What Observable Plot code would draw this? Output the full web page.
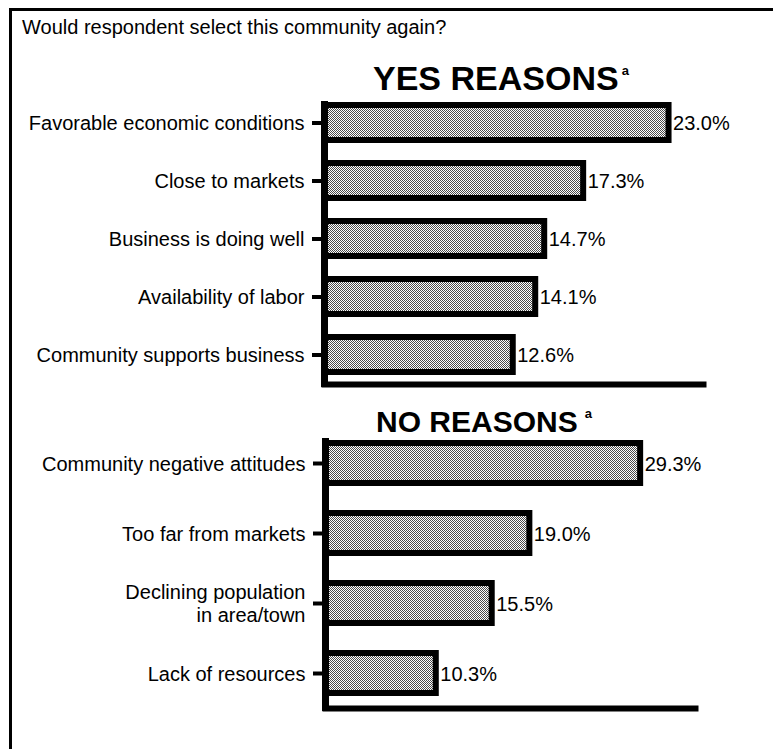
<!DOCTYPE html>
<html>
<head>
<meta charset="utf-8">
<script src="https://cdn.jsdelivr.net/npm/d3@7"></script>
<script src="https://cdn.jsdelivr.net/npm/@observablehq/plot@0.6"></script>
<style>
  html, body { margin: 0; padding: 0; background: #fff; overflow: hidden; }
  #page { position: relative; width: 773px; height: 749px; overflow: hidden; background: #fff;
          font-family: "Liberation Sans", Arial, Helvetica, sans-serif; color: #000; }
  .abs { position: absolute; white-space: nowrap; }
  .sup { font-size: 13px; font-weight: bold; position: relative; }
</style>
</head>
<body>
<div id="page">
  <div class="abs" style="left:9px;top:8px;width:764px;height:741px;box-sizing:border-box;border-top:3px solid #000;border-left:3px solid #000;"></div>
  <div class="abs" style="left:22px;top:17px;font-size:20px;line-height:20px;">Would respondent select this community again?</div>
  <div class="abs" style="left:373px;top:61px;font-size:34px;line-height:34px;font-weight:bold;">YES REASONS<span class="sup" style="top:-15px;margin-left:3px;">a</span></div>
  <div id="yes" class="abs" style="left:0;top:90px;"></div>
  <div class="abs" style="left:376px;top:407px;font-size:30px;line-height:30px;font-weight:bold;">NO REASONS<span class="sup" style="top:-14px;margin-left:7px;">a</span></div>
  <div id="no" class="abs" style="left:0;top:430px;"></div>
  <div class="abs" style="right:0;top:12px;width:8px;height:737px;background:#fff;"></div>
</div>
<script>
// ---- data ----
const yesLabels = [
  "Favorable economic conditions",
  "Close to markets",
  "Business is doing well",
  "Availability of labor",
  "Community supports business"
];
const yesValues = [23.0, 17.3, 14.7, 14.1, 12.6];

const noLabels = [
  "Community negative attitudes",
  "Too far from markets",
  "Declining population\nin area/town",
  "Lack of resources"
];
const noValues = [29.3, 19.0, 15.5, 10.3];

const yesAxisMax = 25.3;
const noAxisMax = 34.4;

// ---- helpers ----
function addPattern(svg, id) {
  const ns = "http://www.w3.org/2000/svg";
  const defs = document.createElementNS(ns, "defs");
  const pat = document.createElementNS(ns, "pattern");
  pat.setAttribute("id", id);
  pat.setAttribute("width", "2");
  pat.setAttribute("height", "2");
  pat.setAttribute("patternUnits", "userSpaceOnUse");
  const cells = [[0, 0, 2, 2, "#fff"], [0, 0, 1, 1, "#4a4a4a"], [1, 1, 1, 1, "#4a4a4a"]];
  for (const [x, y, w, h, f] of cells) {
    const r = document.createElementNS(ns, "rect");
    r.setAttribute("x", x); r.setAttribute("y", y);
    r.setAttribute("width", w); r.setAttribute("height", h);
    r.setAttribute("fill", f);
    r.setAttribute("shape-rendering", "crispEdges");
    pat.appendChild(r);
  }
  defs.appendChild(pat);
  svg.insertBefore(defs, svg.firstChild);
}

function panel(labels, values, opts) {
  const data = labels.map((label, i) => ({label, value: values[i]}));
  const svg = Plot.plot({
    width: 773,
    height: opts.height,
    marginLeft: opts.marginLeft,
    marginRight: opts.marginRight,
    marginTop: opts.marginTop,
    marginBottom: opts.marginBottom,
    style: {fontFamily: "'Liberation Sans', Arial, Helvetica, sans-serif", color: "#000", background: "transparent", overflow: "visible"},
    x: {domain: [0, opts.xMax], axis: null},
    y: {domain: labels, paddingInner: opts.paddingInner, paddingOuter: opts.paddingOuter, align: opts.align, axis: null},
    marks: [
      Plot.barX(data, {x: "value", y: "label", fill: `url(#${opts.id})`, stroke: "#000", strokeWidth: 6}),
      Plot.ruleX([0], {stroke: "#000", strokeWidth: 7, insetBottom: -3}),
      Plot.frame({anchor: "bottom", stroke: "#000", strokeWidth: 6}),
      Plot.axisY({label: null, tickSize: 12, tickPadding: 8, strokeWidth: 4, fontSize: 20, lineHeight: 1.15, fill: "#000"}),
      Plot.text(data, {x: "value", y: "label", text: d => d.value.toFixed(1) + "%", textAnchor: "start", dx: 4, dy: 1, fontSize: 20, fill: "#000"})
    ]
  });
  addPattern(svg, opts.id);
  return svg;
}

document.getElementById("yes").appendChild(panel(yesLabels, yesValues, {
  id: "stipYes", height: 310, marginLeft: 324, marginRight: 70, marginTop: 11, marginBottom: 16,
  xMax: yesAxisMax, paddingInner: 0.4, paddingOuter: 0.1, align: 0.25
}));

document.getElementById("no").appendChild(panel(noLabels, noValues, {
  id: "stipNo", height: 300, marginLeft: 325, marginRight: 78, marginTop: 8, marginBottom: 22,
  xMax: noAxisMax, paddingInner: 0.43, paddingOuter: 0.12, align: 0.25
}));
</script>
</body>
</html>
